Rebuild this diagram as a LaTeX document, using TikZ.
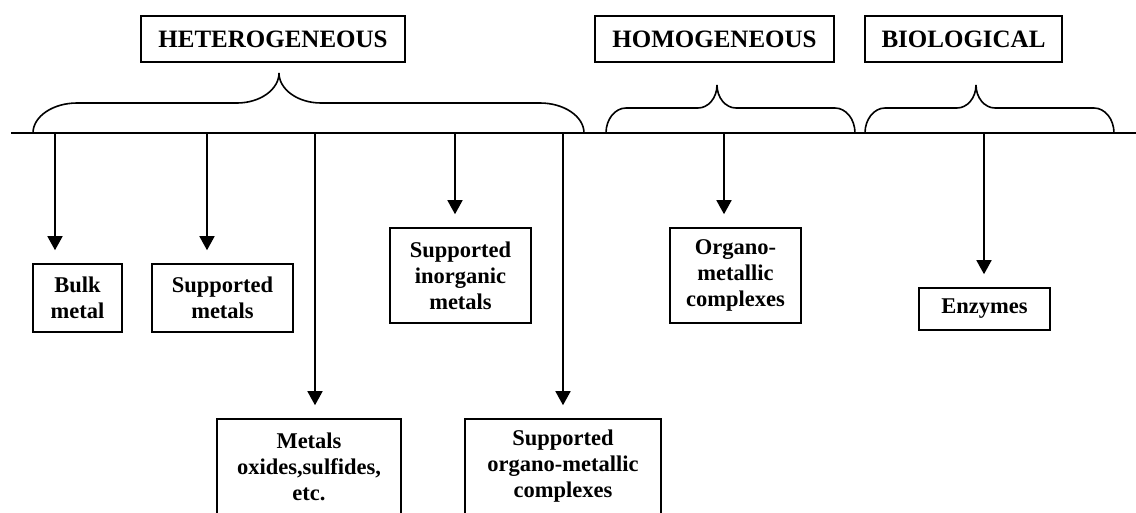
\documentclass[tikz,border=0pt]{standalone}
\usepackage{fontspec}
\setmainfont{Liberation Serif}
\usetikzlibrary{arrows.meta}

% brace over a group: left x, right x, tip x, flat y, tip y, corner, tip half width
\newcommand{\groupbrace}[7]{%
  \draw (#1,133) .. controls (#1,{133-0.55*(133-#4)}) and ({#1+0.45*#6},#4) .. ({#1+#6},#4)
    -- ({#3-#7},#4) .. controls ({#3-0.45*#7},#4) and (#3,{#5+0.55*(#4-#5)}) .. (#3,#5)
    .. controls (#3,{#5+0.55*(#4-#5)}) and ({#3+0.45*#7},#4) .. ({#3+#7},#4)
    -- ({#2-#6},#4) .. controls ({#2-0.45*#6},#4) and (#2,{133-0.55*(133-#4)}) .. (#2,133);
}

\begin{document}
\begin{tikzpicture}[x=1pt,y=-1pt,line width=1.6pt,>={Triangle[length=14pt,width=15pt]},
    head/.style={draw,minimum height=46pt,inner sep=0pt,font=\fontsize{25}{30}\selectfont\bfseries},
    leaf/.style={draw,align=center,inner sep=0pt,font=\fontsize{22.5}{26}\selectfont\bfseries},
    feed/.style={->,shorten >=13pt}]
    \useasboundingbox (0,0) rectangle (1136,512);
    \clip (0,0) rectangle (1136,512);

    \node[head,minimum width=264pt] (hetero) at (273,39)   {HETEROGENEOUS};
    \node[head,minimum width=239pt] (homo)   at (714.5,39) {HOMOGENEOUS};
    \node[head,minimum width=197pt] (bio)    at (963.5,39) {BIOLOGICAL};

    \coordinate (axisL) at (11,133);
    \coordinate (axisR) at (1136,133);
    \draw (axisL) -- (axisR);

    \groupbrace{33}{584}{279}{103}{73}{44}{42}
    \groupbrace{606}{855}{717}{108}{85}{20}{19}
    \groupbrace{865}{1114}{976}{108}{85}{20}{19}

    \node[leaf,minimum width=89pt,minimum height=68pt]  (bulk)     at (77.5,298)   {Bulk\\metal};
    \node[leaf,minimum width=141pt,minimum height=68pt] (supmet)   at (222.5,298)  {Supported\\metals};
    \node[leaf,minimum width=184pt,minimum height=95pt] (oxides)   at (309,466.5)  {Metals\\oxides,sulfides,\\etc.};
    \node[leaf,minimum width=141pt,minimum height=95pt] (supinorg) at (460.5,275.5) {Supported\\inorganic\\metals};
    \node[leaf,minimum width=196pt,minimum height=95pt] (suporgano) at (563,466.5) {Supported\\organo-metallic\\complexes};
    \node[leaf,minimum width=131pt,minimum height=95pt] (organo)   at (735.5,275.5) {Organo-\\metallic\\complexes};
    \node[leaf,minimum width=131pt,minimum height=42pt] (enzymes)  at (984.5,309)  {Enzymes};

    \coordinate (fbulk)     at (55,133);
    \coordinate (fsupmet)   at (207,133);
    \coordinate (foxides)   at (315,133);
    \coordinate (fsupinorg) at (455,133);
    \coordinate (fsuporgano) at (563,133);
    \coordinate (forgano)   at (724,133);
    \coordinate (fenzymes)  at (984,133);

    \draw[feed] (fbulk) -- (fbulk |- bulk.north);
    \draw[feed] (fsupmet) -- (fsupmet |- supmet.north);
    \draw[feed] (foxides) -- (foxides |- oxides.north);
    \draw[feed] (fsupinorg) -- (fsupinorg |- supinorg.north);
    \draw[feed] (fsuporgano) -- (fsuporgano |- suporgano.north);
    \draw[feed] (forgano) -- (forgano |- organo.north);
    \draw[feed] (fenzymes) -- (fenzymes |- enzymes.north);
\end{tikzpicture}
\end{document}
